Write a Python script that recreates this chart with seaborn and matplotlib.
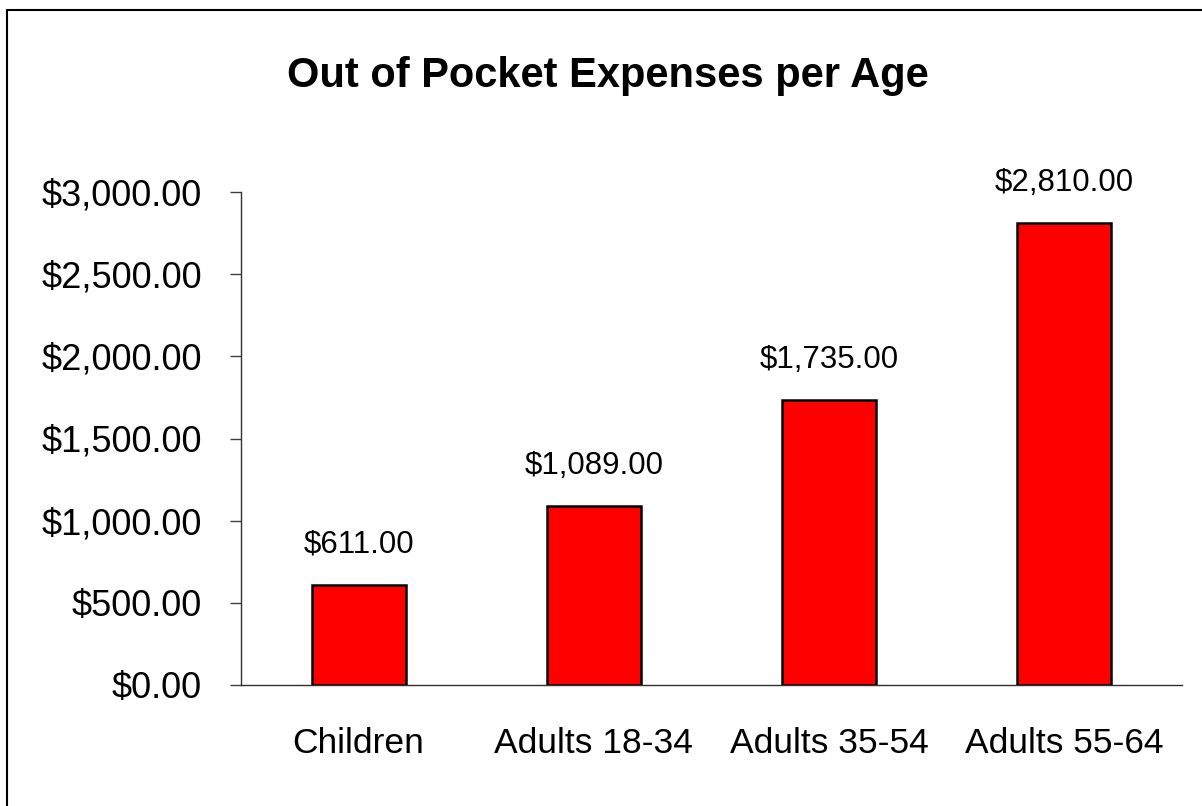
import matplotlib
matplotlib.use("Agg")
import matplotlib.pyplot as plt
import seaborn as sns
import pandas as pd
from matplotlib.patches import Rectangle
from matplotlib.ticker import FuncFormatter

categories = ["Children", "Adults 18-34", "Adults 35-54", "Adults 55-64"]
expenses = [611, 1089, 1735, 2810]
yticks = [0, 500, 1000, 1500, 2000, 2500, 3000]
title = "Out of Pocket Expenses per Age"

sns.set_style("white")
plt.rcParams["font.family"] = ["Liberation Sans", "DejaVu Sans"]
plt.rcParams["text.color"] = "black"
plt.rcParams["xtick.labelcolor"] = "black"
plt.rcParams["ytick.labelcolor"] = "black"

df = pd.DataFrame({"cat": categories, "val": expenses})

fig = plt.figure(figsize=(12.02, 8.06), dpi=100)
ax = fig.add_axes([241/1202, 1-685/806, (1182-241)/1202, (685-192)/806])

sns.barplot(data=df, x="cat", y="val", color="#ff0000", saturation=1,
            edgecolor="black", linewidth=1.8, width=0.4, ax=ax)

ax.set_xlim(-0.5, len(categories)-0.5)
ax.set_ylim(0, 3000)
ax.set_yticks(yticks)
ax.yaxis.set_major_formatter(FuncFormatter(lambda v, p: f"${v:,.2f}"))
ax.set_xticks(range(len(categories)))
ax.set_xticklabels(categories)
ax.set_xlabel("")
ax.set_ylabel("")

# x ticks at category boundaries
ax.set_xticks([i - 0.5 for i in range(len(categories)+1)], minor=True)
ax.tick_params(axis="x", which="major", length=0, pad=30, labelsize=25.5,
               labelcolor="black")
ax.tick_params(axis="x", which="minor", length=8, width=1, color="#404040", direction="out")
ax.tick_params(axis="y", which="major", length=8, width=1, color="#404040",
               direction="out", pad=20, labelsize=26, left=True, labelcolor="black")

for s in ["top", "right"]:
    ax.spines[s].set_visible(False)
for s in ["left", "bottom"]:
    ax.spines[s].set_color("#303030")
    ax.spines[s].set_linewidth(1)

for i, v in enumerate(expenses):
    ax.annotate(f"${v:,.2f}", xy=(i, v), xytext=(0, 23), textcoords="offset points",
                ha="center", va="baseline", fontsize=22.5, color="black")

fig.text(608/1202, 1-87/806, title, ha="center", va="baseline",
         fontsize=30, fontweight="bold", color="black")

fig.patches.append(Rectangle((7/1202, -0.05), 1.2, 1-10/806+0.05,
                             transform=fig.transFigure, fill=False,
                             edgecolor="black", linewidth=1.5))

fig.savefig("out.png", dpi=100)
